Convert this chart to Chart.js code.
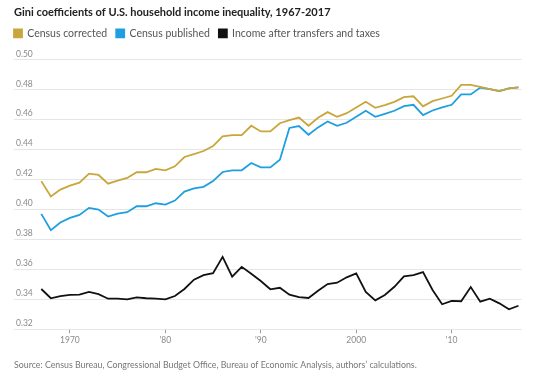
<!DOCTYPE html>
<html>
<head>
<meta charset="utf-8">
<title>Gini coefficients</title>
<script src="https://cdn.jsdelivr.net/npm/chart.js@4.4.1/dist/chart.umd.min.js"></script>
<style>
  body { margin: 0; background: #fff; }
</style>
</head>
<body>
<canvas id="graficoGini" width="555" height="381"></canvas>
<script>
var anos = [1967, 1968, 1969, 1970, 1971, 1972, 1973, 1974, 1975, 1976,
            1977, 1978, 1979, 1980, 1981, 1982, 1983, 1984, 1985, 1986,
            1987, 1988, 1989, 1990, 1991, 1992, 1993, 1994, 1995, 1996,
            1997, 1998, 1999, 2000, 2001, 2002, 2003, 2004, 2005, 2006,
            2007, 2008, 2009, 2010, 2011, 2012, 2013, 2014, 2015, 2016, 2017];

var censoCorrigido = [0.419, 0.4087, 0.4133, 0.416, 0.418, 0.424, 0.4231, 0.4173, 0.4193, 0.4211,
                      0.4249, 0.4249, 0.4271, 0.4262, 0.4289, 0.4351, 0.4371, 0.4391, 0.4424, 0.4489,
                      0.4497, 0.4497, 0.456, 0.4522, 0.4522, 0.4577, 0.4597, 0.4615, 0.456, 0.4613,
                      0.4651, 0.462, 0.4644, 0.4682, 0.472, 0.468, 0.4698, 0.472, 0.4751, 0.4757,
                      0.469, 0.4724, 0.4742, 0.476, 0.4833, 0.4833, 0.482, 0.4805, 0.4791, 0.4809, 0.4817];

var censoPublicado = [0.3971, 0.3862, 0.3913, 0.3944, 0.3964, 0.4011, 0.400, 0.3953, 0.3973, 0.3982,
                      0.4022, 0.4022, 0.4042, 0.4033, 0.406, 0.412, 0.4141, 0.4152, 0.419, 0.4251,
                      0.4262, 0.4262, 0.4311, 0.4282, 0.4282, 0.4333, 0.4545, 0.4558, 0.450, 0.4549,
                      0.4589, 0.456, 0.458, 0.462, 0.466, 0.462, 0.464, 0.466, 0.4691, 0.470,
                      0.4631, 0.4662, 0.4682, 0.470, 0.4769, 0.4769, 0.4815, 0.4805, 0.4791, 0.4809, 0.4817];

var aposTransferencias = [0.3469, 0.3407, 0.3422, 0.3429, 0.3431, 0.3449, 0.3435, 0.3404, 0.3404, 0.340,
                          0.3413, 0.3407, 0.3404, 0.340, 0.3422, 0.3469, 0.3531, 0.3562, 0.3575, 0.3684,
                          0.3551, 0.3617, 0.3571, 0.3522, 0.3467, 0.3477, 0.3431, 0.3415, 0.3409, 0.3457,
                          0.3502, 0.3511, 0.3547, 0.3573, 0.345, 0.3393, 0.3429, 0.3484, 0.3553, 0.3562,
                          0.3582, 0.3462, 0.3367, 0.3389, 0.3387, 0.3482, 0.3384, 0.3404, 0.3373, 0.3333, 0.3357];

var ticksAnos = [1970, 1980, 1990, 2000, 2010];
var rotulosAnos = ['1970', "'80", "'90", '2000', "'10"];

var titulo = 'Gini coefficients of U.S. household income inequality, 1967-2017';
var fonte = 'Source: Census Bureau, Congressional Budget Office, Bureau of Economic Analysis, authors\u2019 calculations.';

function pontos(valores){
    return valores.map(function(v, i){
        return {x: anos[i], y: v};
    });
}

var familia = 'Lato, "Noto Sans", sans-serif';

var grafico = new Chart(document.getElementById('graficoGini').getContext('2d'), {
    type: 'line',
    data: {
        datasets: [{
            label: 'Census corrected',
            data: pontos(censoCorrigido),
            borderColor: '#c9a63c',
            backgroundColor: '#c9a63c',
            xAxisID: 'x'
        }, {
            label: 'Census published',
            data: pontos(censoPublicado),
            borderColor: '#1f9fdf',
            backgroundColor: '#1f9fdf',
            xAxisID: 'x'
        }, {
            label: 'Income after transfers and taxes',
            data: pontos(aposTransferencias),
            borderColor: '#111111',
            backgroundColor: '#111111',
            xAxisID: 'x'
        }]
    },
    options: {
        responsive: false,
        animation: false,
        layout: { padding: { left: 5, right: 33.3, top: 0, bottom: 0 } },
        elements: {
            point: { radius: 0 },
            line: { borderWidth: 1.8, tension: 0 }
        },
        scales: {
            x: {
                type: 'linear',
                position: 'bottom',
                min: 1964.14,
                max: 2017.34,
                afterBuildTicks: function(eixo){
                    eixo.ticks = ticksAnos.map(function(v){ return {value: v}; });
                },
                grid: { drawOnChartArea: false, drawTicks: true, tickLength: 4, tickColor: '#9a9a9a' },
                border: { display: false },
                ticks: {
                    padding: 2,
                    maxRotation: 0,
                    color: '#8a8a8a',
                    font: { family: familia, size: 8.5 },
                    callback: function(valor){
                        var i = ticksAnos.indexOf(valor);
                        return i >= 0 ? rotulosAnos[i] : '';
                    }
                }
            },
            espaco: {
                type: 'linear',
                position: 'top',
                grid: { display: false },
                border: { display: false },
                ticks: { display: false },
                afterFit: function(eixo){ eixo.height = 11.2; }
            },
            y: {
                min: 0.32,
                max: 0.50,
                grid: { color: '#e6e6e6', lineWidth: 1, drawTicks: true, tickLength: 5, tickColor: 'rgba(0,0,0,0)' },
                border: { display: false },
                ticks: {
                    stepSize: 0.02,
                    mirror: true,
                    padding: 2,
                    labelOffset: -6,
                    color: '#8a8a8a',
                    font: { family: familia, size: 8.5 },
                    callback: function(valor){ return valor.toFixed(2); }
                }
            }
        },
        plugins: {
            tooltip: { enabled: false },
            title: {
                display: true,
                text: titulo,
                align: 'start',
                fullSize: false,
                color: '#222',
                font: { family: familia, size: 11, weight: 'bold', lineHeight: 1.2 },
                padding: { top: 6, bottom: 0 }
            },
            legend: {
                display: true,
                align: 'start',
                labels: {
                    boxWidth: 8,
                    boxHeight: 8,
                    padding: 9,
                    color: '#555',
                    font: { family: familia, size: 10.5 }
                }
            },
            subtitle: {
                display: true,
                text: fonte,
                position: 'bottom',
                align: 'start',
                fullSize: false,
                color: '#777',
                font: { family: familia, size: 8.8, lineHeight: 1.2 },
                padding: { top: 12, bottom: 11 }
            }
        }
    }
});
</script>
</body>
</html>
